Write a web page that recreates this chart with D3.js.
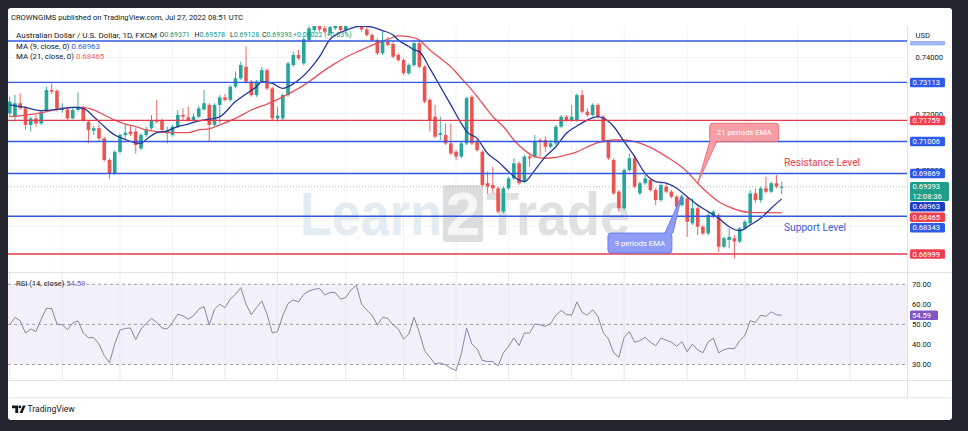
<!DOCTYPE html>
<html>
<head>
<meta charset="utf-8">
<script src="https://cdn.jsdelivr.net/npm/d3@7"></script>
<style>
  html, body { margin: 0; padding: 0; background: #23262e; }
  svg { display: block; font-family: Roboto, "Liberation Sans", sans-serif; }
</style>
</head>
<body>
<svg id="chart" width="968" height="431"></svg>
<script>
// AUD/USD daily, FXCM, 3 Jan 2022 .. 27 Jul 2022 (one value per trading day)
const open = [
  0.7201,0.7189,0.7237,0.7219,0.7160,0.7183,0.7165,0.7213,0.7284,0.7281,
  0.7213,0.7215,0.7183,0.7213,0.7222,0.7171,0.7139,0.7148,0.7112,0.7035,
  0.6987,0.7064,0.7124,0.7136,0.7136,0.7076,0.7124,0.7148,0.7177,0.7177,
  0.7130,0.7124,0.7154,0.7195,0.7187,0.7177,0.7189,0.7215,0.7231,0.7160,
  0.7231,0.7258,0.7249,0.7296,0.7326,0.7367,0.7314,0.7266,0.7314,0.7355,
  0.7290,0.7183,0.7183,0.7266,0.7373,0.7409,0.7379,0.7462,0.7498,0.7516,
  0.7504,0.7486,0.7504,0.7524,0.7498,0.7516,0.7557,0.7528,0.7500,0.7480,
  0.7462,0.7415,0.7456,0.7448,0.7409,0.7391,0.7344,0.7373,0.7451,0.7367,
  0.7249,0.7189,0.7124,0.7124,0.7094,0.7064,0.7047,0.7094,0.7260,0.7100,
  0.7064,0.6952,0.6946,0.6934,0.6851,0.6934,0.6969,0.7023,0.6958,0.7047,
  0.7047,0.7106,0.7106,0.7082,0.7094,0.7154,0.7189,0.7177,0.7177,0.7266,
  0.7207,0.7195,0.7231,0.7189,0.7100,0.7035,0.6922,0.6863,0.6999,0.7041,
  0.6916,0.6952,0.6964,0.6928,0.6892,0.6940,0.6922,0.6904,0.6874,0.6898,
  0.6809,0.6863,0.6797,0.6773,0.6833,0.6839,0.6726,0.6750,0.6756,0.6744,
  0.6791,0.6809,0.6916,0.6892,0.6934,0.6922,0.6952,0.69371
];
const high = [
  0.7260,0.7266,0.7272,0.7227,0.7189,0.7195,0.7213,0.7296,0.7308,0.7287,
  0.7237,0.7222,0.7222,0.7275,0.7227,0.7177,0.7156,0.7165,0.7118,0.7041,
  0.7070,0.7130,0.7160,0.7160,0.7148,0.7130,0.7154,0.7195,0.7249,0.7183,
  0.7154,0.7160,0.7213,0.7219,0.7225,0.7201,0.7227,0.7284,0.7237,0.7237,
  0.7266,0.7270,0.7302,0.7350,0.7385,0.7439,0.7320,0.7320,0.7367,0.7361,
  0.7296,0.7225,0.7272,0.7385,0.7421,0.7427,0.7474,0.7516,0.7534,0.7534,
  0.7522,0.7528,0.7546,0.7540,0.7534,0.7593,0.7661,0.7534,0.7510,0.7486,
  0.7468,0.7492,0.7474,0.7456,0.7415,0.7397,0.7379,0.7456,0.7456,0.7373,
  0.7255,0.7231,0.7189,0.7165,0.7165,0.7070,0.7100,0.7260,0.7266,0.7112,
  0.7070,0.6993,0.7011,0.6940,0.6940,0.6975,0.7041,0.7029,0.7053,0.7058,
  0.7124,0.7112,0.7118,0.7106,0.7160,0.7195,0.7195,0.7231,0.7272,0.7284,
  0.7219,0.7237,0.7237,0.7195,0.7106,0.7041,0.6928,0.7005,0.7058,0.7053,
  0.6958,0.6981,0.6969,0.6934,0.6952,0.6952,0.6928,0.6910,0.6910,0.6904,
  0.6898,0.6868,0.6803,0.6845,0.6857,0.6845,0.6761,0.6791,0.6767,0.6797,
  0.6821,0.6928,0.6934,0.6940,0.6975,0.6958,0.6981,0.69578
];
const low = [
  0.7189,0.7177,0.7213,0.7142,0.7136,0.7154,0.7160,0.7207,0.7270,0.7207,
  0.7203,0.7177,0.7180,0.7207,0.7171,0.7094,0.7124,0.7100,0.7029,0.6969,
  0.6981,0.7058,0.7112,0.7120,0.7058,0.7070,0.7118,0.7142,0.7165,0.7130,
  0.7094,0.7118,0.7148,0.7177,0.7171,0.7171,0.7183,0.7211,0.7100,0.7156,
  0.7165,0.7243,0.7243,0.7290,0.7320,0.7308,0.7260,0.7260,0.7308,0.7284,
  0.7177,0.7171,0.7177,0.7260,0.7367,0.7391,0.7373,0.7456,0.7489,0.7492,
  0.7486,0.7480,0.7498,0.7492,0.7489,0.7510,0.7528,0.7492,0.7474,0.7456,
  0.7409,0.7409,0.7439,0.7397,0.7385,0.7338,0.7338,0.7367,0.7361,0.7237,
  0.7136,0.7112,0.7106,0.7088,0.7053,0.7035,0.7041,0.7088,0.7088,0.7064,
  0.6940,0.6916,0.6916,0.6845,0.6845,0.6928,0.6964,0.6946,0.6952,0.7011,
  0.7041,0.7047,0.7064,0.7076,0.7088,0.7148,0.7171,0.7171,0.7171,0.7201,
  0.7189,0.7189,0.7183,0.7097,0.7035,0.6910,0.6851,0.6857,0.6993,0.6934,
  0.6910,0.6946,0.6922,0.6874,0.6886,0.6916,0.6898,0.6863,0.6868,0.6761,
  0.6803,0.6767,0.6767,0.6767,0.6827,0.6708,0.6720,0.6720,0.6684,0.6738,
  0.6785,0.6803,0.6883,0.6883,0.6916,0.6916,0.6934,0.69128
];
const close = [
  0.7243,0.7237,0.7219,0.7160,0.7183,0.7165,0.7207,0.7284,0.7278,0.7213,
  0.7222,0.7183,0.7213,0.7225,0.7177,0.7142,0.7148,0.7112,0.7035,0.6987,
  0.7064,0.7124,0.7132,0.7127,0.7088,0.7124,0.7144,0.7177,0.7171,0.7142,
  0.7139,0.7154,0.7195,0.7189,0.7177,0.7189,0.7219,0.7237,0.7160,0.7231,
  0.7258,0.7249,0.7296,0.7326,0.7373,0.7314,0.7266,0.7314,0.7355,0.7290,
  0.7183,0.7193,0.7266,0.7379,0.7409,0.7397,0.7465,0.7504,0.7516,0.7500,
  0.7492,0.7508,0.7528,0.7498,0.7516,0.7569,0.7534,0.7500,0.7480,0.7462,
  0.7415,0.7456,0.7445,0.7403,0.7391,0.7344,0.7373,0.7451,0.7367,0.7243,
  0.7177,0.7118,0.7130,0.7094,0.7058,0.7047,0.7094,0.7255,0.7094,0.7070,
  0.6946,0.6940,0.6934,0.6851,0.6934,0.6969,0.7023,0.6952,0.7047,0.7041,
  0.7100,0.7100,0.7082,0.7094,0.7154,0.7189,0.7177,0.7189,0.7266,0.7207,
  0.7195,0.7231,0.7189,0.7104,0.7041,0.6916,0.6863,0.6999,0.7041,0.6940,
  0.6952,0.6969,0.6928,0.6892,0.6946,0.6922,0.6904,0.6868,0.6904,0.6815,
  0.6863,0.6797,0.6773,0.6839,0.6851,0.6726,0.6756,0.6761,0.6744,0.6791,
  0.6815,0.6916,0.6892,0.6934,0.6922,0.6952,0.6940,0.69393
];

// moving averages at these bar numbers
const ma9Bars = [0,3,6,9,12,14,16,18,20,22,24,25,26,28,30,32,34,36,38,40,43,45,47,48,50,52,53,55,57,59,
  61,63,65,67,69,71,73,74,76,77,78,80,82,84,86,87,89,91,93,95,97,98,100,102,104,106,108,110,112,115,
  117,119,121,123,125,127,129,131,133,135,137,139,141,143,145,147];
const ma9 = [0.7231,0.7222,0.7211,0.7215,0.7222,0.7219,0.7189,0.7154,0.7124,0.7108,0.7096,0.7094,0.7108,
  0.7132,0.7139,0.7154,0.7163,0.7174,0.7180,0.7189,0.7243,0.7270,0.7296,0.7314,0.7308,0.7290,0.7296,0.7320,
  0.7355,0.7403,0.7465,0.7489,0.7504,0.7512,0.7508,0.7496,0.7480,0.7462,0.7439,0.7427,0.7421,0.7361,0.7296,
  0.7231,0.7165,0.7136,0.7112,0.7058,0.7029,0.6993,0.6963,0.6958,0.6999,0.7047,0.7082,0.7130,0.7156,0.7177,
  0.7189,0.7154,0.7100,0.7047,0.6987,0.6958,0.6952,0.6934,0.6904,0.6874,0.6851,0.6827,0.6797,0.6783,0.6803,
  0.6827,0.6863,0.68963];
const ma21Bars = [0,3,6,9,12,14,16,18,20,22,24,26,28,30,32,34,36,38,40,43,46,49,52,55,57,60,62,64,67,70,
  72,74,76,78,80,82,84,86,88,90,92,94,96,98,100,102,104,106,108,110,112,115,117,119,121,123,125,127,129,131,
  133,135,137,139,141,143,145,147];
const ma21 = [0.7189,0.7195,0.7203,0.7215,0.7222,0.7222,0.7213,0.7195,0.7177,0.7163,0.7154,0.7142,0.7136,
  0.7132,0.7132,0.7132,0.7142,0.7146,0.7160,0.7183,0.7213,0.7234,0.7260,0.7290,0.7314,0.7355,0.7379,0.7401,
  0.7427,0.7451,0.7465,0.7477,0.7474,0.7462,0.7427,0.7397,0.7367,0.7326,0.7284,0.7237,0.7189,0.7154,0.7106,
  0.7070,0.7047,0.7041,0.7044,0.7053,0.7064,0.7082,0.7097,0.7106,0.7106,0.7100,0.7088,0.7070,0.7047,0.7023,
  0.6993,0.6952,0.6916,0.6886,0.6868,0.6854,0.6848,0.6847,0.6847,0.68465];

// RSI(14), one value per bar
const rsi = [
  49.7,53.5,51.8,45.7,47.7,46.4,52.6,58.1,57.9,50.2,
  49.8,47.4,50.7,51.8,45.7,43.4,43.4,40.2,34.5,30.8,
  40.2,47.2,48.0,48.2,42.4,47.7,50.5,53.0,51.0,48.2,
  47.7,51.0,55.1,54.3,52.6,54.3,57.6,58.9,49.7,57.6,
  60.1,58.3,62.6,65.0,68.3,60.1,54.8,58.4,61.7,55.1,
  45.7,46.4,54.3,60.4,62.2,61.2,65.0,66.7,67.5,67.9,
  64.7,65.9,65.9,62.6,63.4,67.2,69.5,60.1,57.1,54.6,
  49.7,53.5,53.0,49.7,47.7,42.7,45.2,53.5,46.0,36.9,
  33.6,30.3,30.8,29.8,28.2,27.0,35.3,48.2,40.2,37.8,
  32.0,31.5,31.5,29.2,35.8,39.1,43.2,39.4,45.7,45.7,
  50.2,49.8,49.0,50.5,54.6,56.9,55.0,54.6,61.2,56.0,
  54.6,57.3,54.0,46.0,42.7,35.8,33.6,43.5,46.4,41.1,
  41.9,43.5,41.1,39.4,43.2,42.2,41.1,39.1,41.4,36.4,
  40.2,37.3,35.8,41.4,43.1,35.8,37.4,38.1,37.8,41.9,
  44.4,51.8,51.0,54.6,54.0,56.3,54.8,54.59
];

// drawn horizontal levels
const blueLevels = [0.7459, 0.73113, 0.71006, 0.69869, 0.68343];
const redLevels = [0.71759, 0.66999];

// axes
const priceGrid = [0.74, 0.72, 0.70, 0.68];
const priceTicks = [0.74, 0.72, 0.70];
const rsiTicks = [70, 60, 50, 40, 30];
const rsiBands = [70, 50, 30];
const tickDates = ["2022-01-03","2022-01-17","2022-02-01","2022-02-15","2022-03-01","2022-03-15","2022-04-01",
  "2022-04-18","2022-05-02","2022-05-16","2022-06-01","2022-06-15","2022-07-01","2022-07-18","2022-08-01","2022-08-15"];
const tickLabels = ["2022","17","Feb","15","Mar","15","Apr","18","May","16","Jun","15","Jul","18","Aug","15"];

// ---------------------------------------------------------------
const svg = d3.select("#chart");
const UP = "#26a69a", DOWN = "#ef5350", BLUE = "#2962ff";
const FONT = "Roboto, 'Liberation Sans', sans-serif";

function weekdays(from, to) {
  const out = [];
  const end = new Date(to + "T00:00:00Z");
  for (let d = new Date(from + "T00:00:00Z"); d <= end; d.setUTCDate(d.getUTCDate() + 1)) {
    const w = d.getUTCDay();
    if (w !== 0 && w !== 6) out.push(d.toISOString().slice(0, 10));
  }
  return out;
}
const days = weekdays("2022-01-03", "2022-08-31");
const last = close.length - 1;

const x = d3.scaleLinear().domain([0, last]).range([9.7, 781.7]);
const y = d3.scaleLinear().domain([0.74, 0.66999]).range([57.5, 254]);
const yR = d3.scaleLinear().domain([70, 30]).range([284.3, 364.5]);

const paneR = 907, cardR = 952;

// card
svg.append("rect").attr("x", 8).attr("y", 8).attr("width", cardR - 8).attr("height", 412)
  .attr("rx", 3).attr("fill", "#fff");

const defs = svg.append("defs");
defs.append("clipPath").attr("id", "clipMain").append("rect")
  .attr("x", 8).attr("y", 26).attr("width", paneR - 8).attr("height", 246);
defs.append("clipPath").attr("id", "clipRsi").append("rect")
  .attr("x", 8).attr("y", 273).attr("width", paneR - 8).attr("height", 107);
defs.append("clipPath").attr("id", "clipTime").append("rect")
  .attr("x", 9.5).attr("y", 380).attr("width", paneR - 9.5).attr("height", 18);

svg.append("text").attr("x", 11).attr("y", 17.7).attr("dominant-baseline", "central")
  .attr("font-size", 8).attr("fill", "#131722")
  .attr("textLength", 232).attr("lengthAdjust", "spacingAndGlyphs")
  .text("CROWNGIMS published on TradingView.com, Jul 27, 2022 08:51 UTC");

const tickIdx = tickDates.map(d => days.indexOf(d));

// ---------- main pane
const gMain = svg.append("g").attr("clip-path", "url(#clipMain)");

gMain.selectAll("line.vgrid").data(tickIdx).join("line").attr("class", "vgrid")
  .attr("x1", d => x(d)).attr("x2", d => x(d)).attr("y1", 26).attr("y2", 272)
  .attr("stroke", "#f0f3fa");
gMain.selectAll("line.hgrid").data(priceGrid).join("line").attr("class", "hgrid")
  .attr("x1", 8).attr("x2", paneR).attr("y1", d => y(d)).attr("y2", d => y(d))
  .attr("stroke", "#f0f3fa");

// watermark
const wm = gMain.append("g").attr("font-family", "'Liberation Sans', Arial, sans-serif").attr("font-weight", 700);
wm.append("text").attr("x", 300).attr("y", 235).attr("font-size", 62).attr("fill", "#e3ebf3")
  .attr("textLength", 142).attr("lengthAdjust", "spacingAndGlyphs").text("Learn");
wm.append("rect").attr("x", 443).attr("y", 185).attr("width", 40).attr("height", 57).attr("rx", 3)
  .attr("fill", "#dcdddf");
wm.append("text").attr("x", 463).attr("y", 235).attr("text-anchor", "middle").attr("font-size", 62)
  .attr("fill", "#f6f6f6").text("2");
wm.append("text").attr("x", 486).attr("y", 235).attr("font-size", 62).attr("fill", "#e0e1e3")
  .attr("textLength", 144).attr("lengthAdjust", "spacingAndGlyphs").text("Trade");

// last price dotted line
gMain.append("line").attr("x1", 8).attr("x2", paneR).attr("y1", y(close[last])).attr("y2", y(close[last]))
  .attr("stroke", "#9aa0a8").attr("stroke-dasharray", "1,2").attr("stroke-width", 0.8);

// candles
const bars = d3.range(close.length).map(i => ({ i, o: open[i], h: high[i], l: low[i], c: close[i] }));
const bodyW = 3.6;
gMain.selectAll("line.wick").data(bars).join("line").attr("class", "wick")
  .attr("x1", d => x(d.i)).attr("x2", d => x(d.i))
  .attr("y1", d => y(d.h)).attr("y2", d => y(d.l))
  .attr("stroke", d => d.c >= d.o ? UP : DOWN).attr("stroke-width", 0.9);
gMain.selectAll("rect.body").data(bars).join("rect").attr("class", "body")
  .attr("x", d => x(d.i) - bodyW / 2).attr("width", bodyW)
  .attr("y", d => y(Math.max(d.o, d.c)))
  .attr("height", d => Math.max(1, Math.abs(y(d.o) - y(d.c))))
  .attr("fill", d => d.c >= d.o ? UP : DOWN);

// moving averages
const maLine = d3.line().x(d => x(d[0])).y(d => y(d[1])).curve(d3.curveMonotoneX);
gMain.append("path").datum(d3.zip(ma21Bars, ma21)).attr("d", maLine)
  .attr("fill", "none").attr("stroke", "#e8505b").attr("stroke-width", 1.3);
gMain.append("path").datum(d3.zip(ma9Bars, ma9)).attr("d", maLine)
  .attr("fill", "none").attr("stroke", "#22369c").attr("stroke-width", 1.3);

// horizontal levels
gMain.selectAll("line.blvl").data(blueLevels).join("line").attr("class", "blvl")
  .attr("x1", 8).attr("x2", paneR).attr("y1", d => y(d)).attr("y2", d => y(d))
  .attr("stroke", "#3158e0").attr("stroke-width", 1.4);
gMain.selectAll("line.rlvl").data(redLevels).join("line").attr("class", "rlvl")
  .attr("x1", 8).attr("x2", paneR).attr("y1", d => y(d)).attr("y2", d => y(d))
  .attr("stroke", "#e33b4e").attr("stroke-width", 1.4);

// callouts
function callout(tipX, tipY, bx, by, bw, bh, baseX0, baseX1, baseY, fill, stroke, label) {
  const g = gMain.append("g");
  g.append("path")
    .attr("d", `M${baseX0},${baseY}L${tipX},${tipY}L${baseX1},${baseY}Z`)
    .attr("fill", fill).attr("stroke", stroke).attr("stroke-width", 0.8);
  g.append("rect").attr("x", bx).attr("y", by).attr("width", bw).attr("height", bh).attr("rx", 3)
    .attr("fill", fill).attr("stroke", stroke).attr("stroke-width", 0.8);
  g.append("path")
    .attr("d", `M${baseX0 + 0.6},${baseY}L${baseX1 - 0.6},${baseY}`)
    .attr("stroke", fill).attr("stroke-width", 1.6);
  g.append("text").attr("x", bx + bw / 2).attr("y", by + bh / 2).attr("dominant-baseline", "central")
    .attr("text-anchor", "middle").attr("font-size", 7.8).attr("fill", "#fff").text(label);
}
{
  const i21 = ma21Bars.indexOf(131);
  const tx = x(131), ty = y(ma21[i21]);
  callout(tx, ty, tx + 12, ty - 60, 69, 18.5, tx + 12, tx + 19, ty - 41.5, "#f59ea6", "#ea5b66", "21 periods EMA");
  const tx9 = x(128), ty9 = y(high[128]);
  callout(tx9, ty9, tx9 - 74, ty9 + 38, 64, 20, tx9 - 17, tx9 - 9, ty9 + 38, "#8f9df6", "#5b6ff0", "9 periods EMA");
}

gMain.append("text").attr("x", 784).attr("y", 162.5).attr("dominant-baseline", "central")
  .attr("font-size", 10.2).attr("fill", "#e5434f").text("Resistance Level");
gMain.append("text").attr("x", 784).attr("y", 227.5).attr("dominant-baseline", "central")
  .attr("font-size", 10.2).attr("fill", "#3b5bd6").text("Support Level");

// legend
const lg = svg.append("g").attr("font-size", 7.8).attr("fill", "#131722");
const l1 = lg.append("text").attr("y", 35.3).attr("dominant-baseline", "central").attr("font-size", 7);
l1.append("tspan").attr("x", 16).attr("textLength", 141).attr("lengthAdjust", "spacingAndGlyphs")
  .attr("font-size", 7.8).text("Australian Dollar / U.S. Dollar, 1D, FXCM");
const ohlcX = [159.5, 194.5, 230, 262];
[["O", open[last]], ["H", high[last]], ["L", low[last]], ["C", close[last]]].forEach(([k, v], n) => {
  l1.append("tspan").attr("x", ohlcX[n]).text(k);
  l1.append("tspan").attr("fill", "#089981").text(v.toFixed(5));
});
l1.append("tspan").attr("x", 293).attr("fill", "#089981").text("+0.00022 (+0.03%)");
const l2 = lg.append("text").attr("x", 16).attr("y", 45.7).attr("dominant-baseline", "central");
l2.append("tspan").text("MA (9, close, 0)  ");
l2.append("tspan").attr("fill", BLUE).text(ma9[ma9.length - 1].toFixed(5));
const l3 = lg.append("text").attr("x", 16).attr("y", 56).attr("dominant-baseline", "central");
l3.append("tspan").text("MA (21, close, 0)  ");
l3.append("tspan").attr("fill", "#f25b5b").text(ma21[ma21.length - 1].toFixed(5));

// ---------- price axis
svg.append("line").attr("x1", paneR + 0.5).attr("x2", paneR + 0.5).attr("y1", 26).attr("y2", 398)
  .attr("stroke", "#e0e3eb");
const yAxis = d3.axisRight(y).tickValues(priceTicks).tickFormat(d3.format(".5f")).tickSize(0).tickPadding(0);
svg.append("g").attr("transform", `translate(${paneR + 8.5},0)`).call(yAxis)
  .call(g => g.select(".domain").remove())
  .attr("font-size", 7.6).attr("font-family", FONT)
  .selectAll("text").attr("fill", "#131722");

const labels = [
  { p: blueLevels[1], fill: "#2f5be8", t: [blueLevels[1].toFixed(5)] },
  { p: redLevels[0], fill: "#f0404f", t: [redLevels[0].toFixed(5)] },
  { p: blueLevels[2], fill: "#2f5be8", t: [blueLevels[2].toFixed(5)] },
  { p: blueLevels[3], fill: "#2f5be8", t: [blueLevels[3].toFixed(5)] },
  { p: close[last], fill: "#1f9e8a", t: [close[last].toFixed(5), "12:08:36"] },
  { p: ma9[ma9.length - 1], fill: "#1d3fc4", t: [ma9[ma9.length - 1].toFixed(5)] },
  { p: ma21[ma21.length - 1], fill: "#f0404f", t: [ma21[ma21.length - 1].toFixed(5)] },
  { p: blueLevels[4], fill: "#2f5be8", t: [blueLevels[4].toFixed(5)] },
  { p: redLevels[1], fill: "#f0404f", t: [redLevels[1].toFixed(5)] }
];
labels.sort((a, b) => y(a.p) - y(b.p));
let prevBottom = -1e9;
labels.forEach(d => {
  d.h = d.t.length * 9.5;
  d.top = Math.max(y(d.p) - 4.75, prevBottom + 1);
  prevBottom = d.top + d.h;
});
const gl = svg.append("g").attr("font-size", 7.6).attr("fill", "#fff");
labels.forEach(d => {
  gl.append("rect").attr("x", paneR + 3).attr("y", d.top).attr("width", d.t.length > 1 ? 39 : 35)
    .attr("height", d.h).attr("rx", 1.5).attr("fill", d.fill);
  d.t.forEach((s, k) => {
    gl.append("text").attr("x", paneR + 5.5).attr("y", d.top + 4.9 + k * 9.5)
      .attr("dominant-baseline", "central").text(s);
  });
});
// top level label, partly under the currency caption
svg.append("rect").attr("x", paneR + 3).attr("y", y(blueLevels[0])).attr("width", 35).attr("height", 4.5)
  .attr("fill", "#2f5be8").attr("opacity", 0.45);
svg.append("text").attr("x", paneR + 8.5).attr("y", 35).attr("dominant-baseline", "central")
  .attr("font-size", 7.6).attr("fill", "#131722").text("USD");

// ---------- separators
svg.append("line").attr("x1", 8).attr("x2", cardR).attr("y1", 272.5).attr("y2", 272.5).attr("stroke", "#e0e3eb");
svg.append("line").attr("x1", 8).attr("x2", cardR).attr("y1", 380.5).attr("y2", 380.5).attr("stroke", "#e0e3eb");
svg.append("line").attr("x1", 8).attr("x2", cardR).attr("y1", 397.8).attr("y2", 397.8).attr("stroke", "#e0e3eb");

// ---------- RSI pane
const gR = svg.append("g").attr("clip-path", "url(#clipRsi)");
gR.append("rect").attr("x", 8).attr("width", paneR - 8).attr("y", yR(70)).attr("height", yR(30) - yR(70))
  .attr("fill", "#7e57c2").attr("opacity", 0.09);
gR.selectAll("line.vgrid").data(tickIdx).join("line").attr("class", "vgrid")
  .attr("x1", d => x(d)).attr("x2", d => x(d)).attr("y1", 273).attr("y2", 380)
  .attr("stroke", "#e9e6f2");
gR.selectAll("line.band").data(rsiBands).join("line").attr("class", "band")
  .attr("x1", 8).attr("x2", paneR).attr("y1", d => yR(d)).attr("y2", d => yR(d))
  .attr("stroke", "#9598a1").attr("stroke-dasharray", "3,3").attr("stroke-width", 0.9);
gR.append("path").datum(rsi)
  .attr("d", d3.line().x((d, i) => x(i)).y(d => yR(d)))
  .attr("fill", "none").attr("stroke", "#8c82ab").attr("stroke-width", 1);

const rl = svg.append("text").attr("x", 16).attr("y", 282.7).attr("dominant-baseline", "central")
  .attr("font-size", 7.6).attr("fill", "#131722");
rl.append("tspan").text("RSI (14, close)  ");
rl.append("tspan").attr("fill", "#7e57c2").text(rsi[last].toFixed(2));

const rAxis = d3.axisRight(yR).tickValues(rsiTicks).tickFormat(d3.format(".2f")).tickSize(0).tickPadding(0);
svg.append("g").attr("transform", `translate(${paneR + 5},0)`).call(rAxis)
  .call(g => g.select(".domain").remove())
  .attr("font-size", 7.6).attr("font-family", FONT)
  .selectAll("text").attr("fill", "#131722");
svg.append("rect").attr("x", paneR + 3).attr("y", yR(rsi[last]) - 4.75).attr("width", 28).attr("height", 9.5)
  .attr("rx", 1.5).attr("fill", "#7e57c2");
svg.append("text").attr("x", paneR + 5).attr("y", yR(rsi[last])).attr("dominant-baseline", "central")
  .attr("font-size", 7.6).attr("fill", "#fff").text(rsi[last].toFixed(2));

// ---------- time axis
const xAxis = d3.axisBottom(x).tickValues(tickIdx).tickFormat((d, i) => tickLabels[i]).tickSize(0).tickPadding(0);
svg.append("g").attr("transform", "translate(0,385.6)").attr("clip-path", "url(#clipTime)").call(xAxis)
  .call(g => g.select(".domain").remove())
  .attr("font-size", 7.4).attr("font-family", FONT)
  .selectAll("text").attr("fill", "#131722");

// ---------- footer
const ft = svg.append("g").attr("fill", "#131722");
ft.append("path").attr("d", "M12,405.5h6.2v7.5h-2.9v-4.8h-3.3z");
ft.append("circle").attr("cx", 19.9).attr("cy", 406.9).attr("r", 1.4);
ft.append("path").attr("d", "M19.6,413l3.3,-7.5h2.8l-3.3,7.5z");
ft.append("text").attr("x", 27.5).attr("y", 409.3).attr("dominant-baseline", "central")
  .attr("font-size", 8.6).text("TradingView");
</script>
</body>
</html>
